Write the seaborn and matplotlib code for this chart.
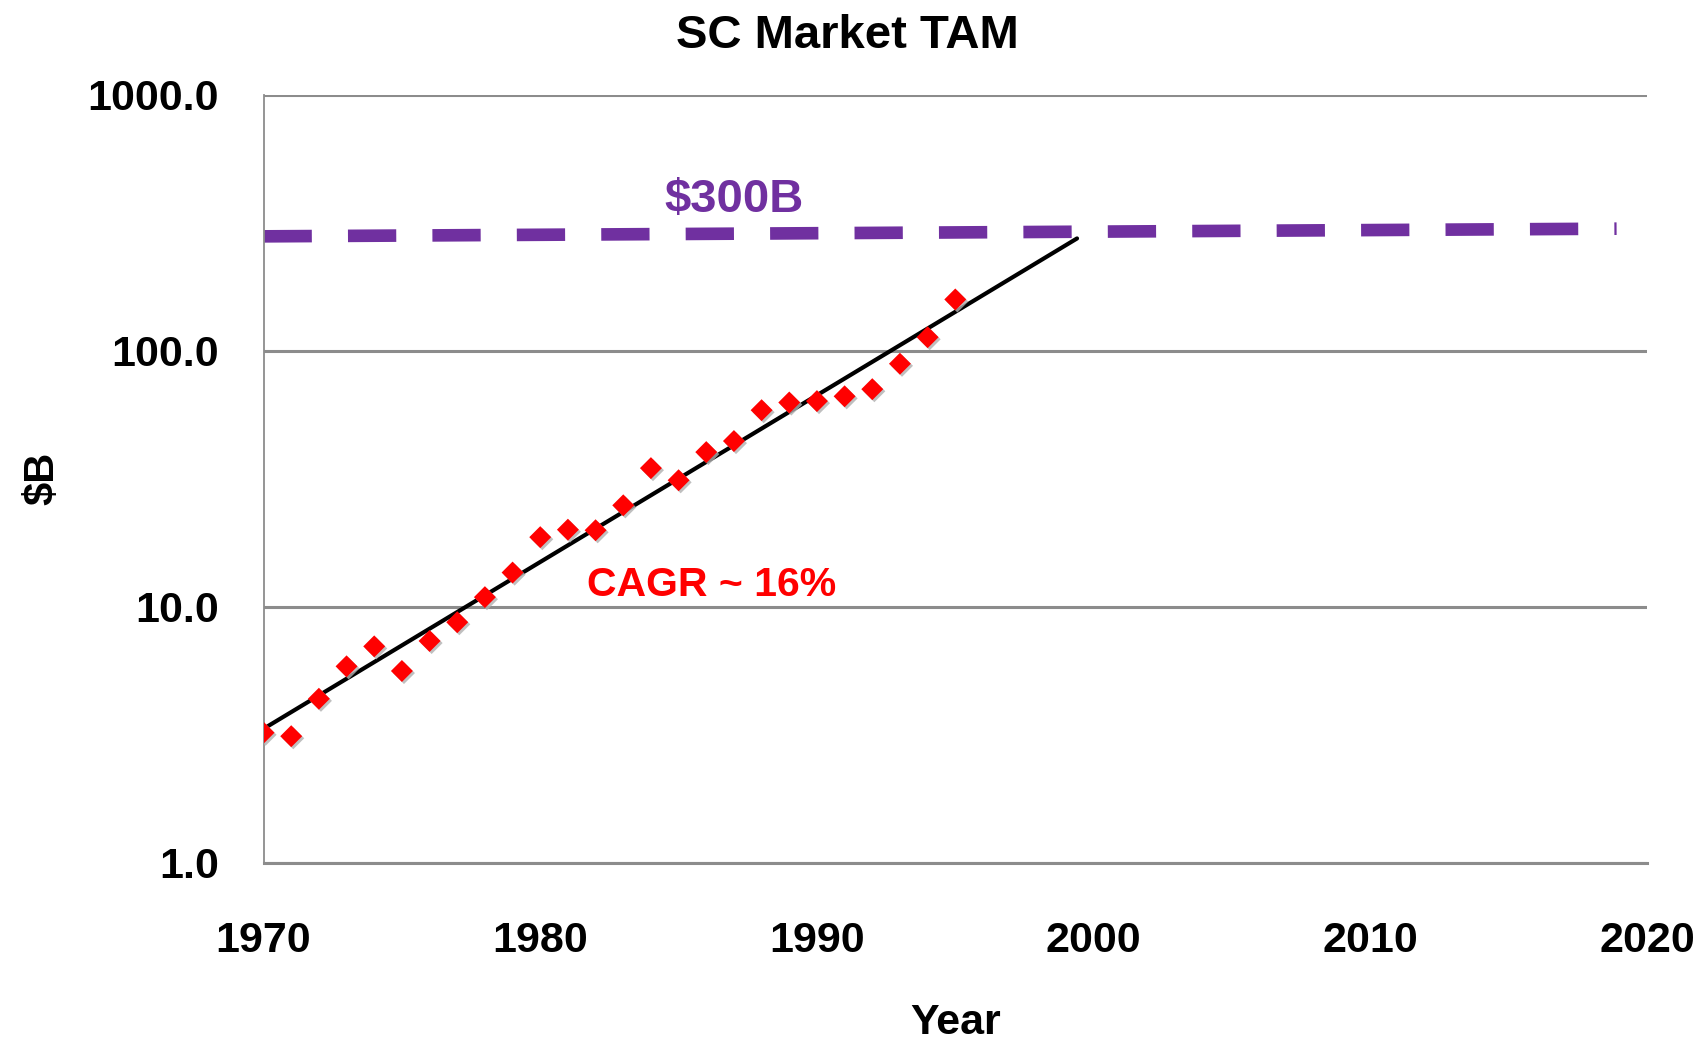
import matplotlib
matplotlib.use("Agg")
import matplotlib.pyplot as plt
import matplotlib.patheffects as pe
import numpy as np
import pandas as pd
import seaborn as sns

# Semiconductor market size, $B
years = [1970, 1971, 1972, 1973, 1974, 1975, 1976, 1977, 1978, 1979,
         1980, 1981, 1982, 1983, 1984, 1985, 1986, 1987, 1988, 1989,
         1990, 1991, 1992, 1993, 1994, 1995]
tam = [3.22, 3.12, 4.37, 5.85, 7.0, 5.61, 7.35, 8.7, 10.9, 13.6,
       18.7, 20.0, 19.9, 24.9, 34.8, 31.2, 40.2, 44.4, 58.6, 62.8,
       63.6, 66.4, 70.8, 89.0, 113.0, 158.7]

# $300B ceiling line (drawn slightly sloped in the original)
ceiling_years = [1970, 2018.9]
ceiling_values = [280, 300]

trend_end_year = 1999.4
x_ticks = [1970, 1980, 1990, 2000, 2010, 2020]
y_ticks = [1.0, 10.0, 100.0, 1000.0]

PURPLE = "#7030A0"
GRID = "#8c8c8c"

sns.set_style("white")
plt.rcParams["font.family"] = ["Liberation Sans", "DejaVu Sans"]
plt.rcParams["text.color"] = "black"
plt.rcParams["axes.labelcolor"] = "black"
plt.rcParams["xtick.color"] = "black"
plt.rcParams["ytick.color"] = "black"

df = pd.DataFrame({"Year": years, "TAM": tam})

# exponential trendline fitted to the data (like Excel's)
slope, intercept = np.polyfit(df["Year"], np.log10(df["TAM"]), 1)
trend_x = np.array([years[0], trend_end_year])
trend = pd.DataFrame({"Year": trend_x, "TAM": 10 ** (intercept + slope * trend_x)})

fig = plt.figure(figsize=(17.08, 10.4), dpi=100)
ax = fig.add_axes([0.1543, 0.1705, 0.81, 0.7383])
ax.set_yscale("log")

ax.plot(ceiling_years, ceiling_values, color=PURPLE, linewidth=9.1,
        dashes=(3.82, 2.86), solid_capstyle="butt", dash_capstyle="butt", zorder=2)

sns.lineplot(data=trend, x="Year", y="TAM", color="black", linewidth=3.0, ax=ax, zorder=3)

pts = sns.scatterplot(data=df, x="Year", y="TAM", marker="D", s=125, color="#ff0000",
                      edgecolor="none", ax=ax, zorder=4)
pts.collections[-1].set_path_effects([
    pe.SimplePatchShadow(offset=(1.5, -1.5), shadow_rgbFace="#b0b0b0", alpha=0.8),
    pe.Normal()])

ax.set_xlim(1970, 2020)
ax.set_ylim(1.0, 1000.0)
ax.set_xticks(x_ticks)
ax.set_xticklabels([str(x) for x in x_ticks], fontweight="bold")
ax.set_yticks(y_ticks)
ax.set_yticklabels([f"{y:.1f}" for y in y_ticks], fontweight="bold")
ax.yaxis.set_minor_locator(matplotlib.ticker.NullLocator())

ax.grid(True, axis="y", color=GRID, linewidth=2.2)
ax.set_axisbelow(True)
for side in ["top", "right"]:
    ax.spines[side].set_visible(False)
ax.spines["left"].set_color(GRID)
ax.spines["left"].set_linewidth(1.3)
ax.spines["bottom"].set_color(GRID)
ax.spines["bottom"].set_linewidth(2.2)

ax.tick_params(axis="x", direction="out", length=13, width=1.3, color=GRID,
               labelsize=31, pad=29)
ax.tick_params(axis="y", direction="out", length=11, width=2.2, color=GRID,
               labelsize=31, pad=21)

# title sits over the middle of the figure, not of the plot area
ax.set_title("SC Market TAM", fontsize=34, fontweight="bold", pad=34, x=0.422)
ax.set_xlabel("Year", fontsize=31, fontweight="bold", labelpad=30)
ax.set_ylabel("$B", fontsize=30, fontweight="bold", labelpad=18)

ax.text(1987.0, 390, "$300B", color=PURPLE, fontsize=34, fontweight="bold",
        ha="center", va="center")
ax.text(1986.2, 12.2, "CAGR ~ 16%", color="#ff0000", fontsize=29.5, fontweight="bold",
        ha="center", va="center")

plt.savefig("out.png", dpi=100)
plt.close()
